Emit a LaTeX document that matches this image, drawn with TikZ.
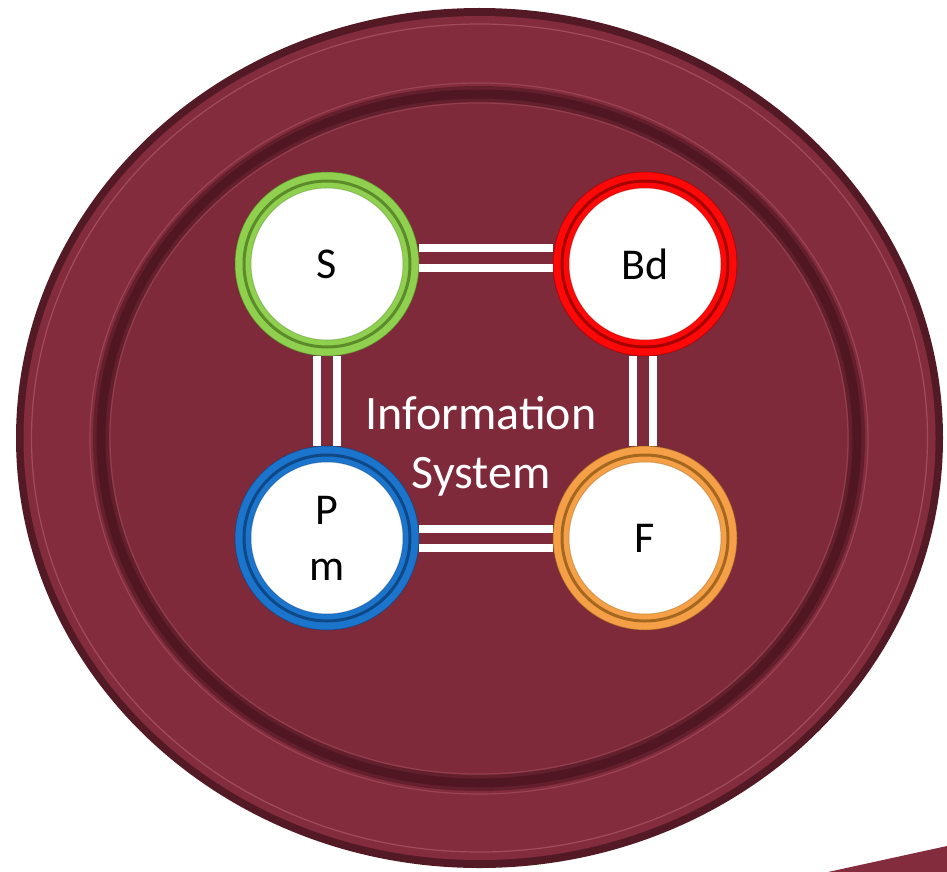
\documentclass[tikz,border=0pt]{standalone}
\usepackage{fontspec}
\setmainfont{Carlito}
\usetikzlibrary{calc}

\definecolor{discfill}{HTML}{7E2A3B}
\definecolor{discrim}{HTML}{822C3E}
\definecolor{discedge}{HTML}{531A25}
\definecolor{groovecol}{HTML}{4C1620}
\definecolor{shine}{HTML}{D07A8A}
\definecolor{sgreen}{HTML}{8FD14F}
\definecolor{sgreendk}{HTML}{4A7420}
\definecolor{bdred}{HTML}{FF0808}
\definecolor{bdreddk}{HTML}{880000}
\definecolor{pmblue}{HTML}{1C75CC}
\definecolor{pmbluedk}{HTML}{0A3A70}
\definecolor{forange}{HTML}{F5A047}
\definecolor{forangedk}{HTML}{8A5414}

\tikzset{
  ringnode/.style={circle, minimum size=168pt, inner sep=0pt, fill=white,
    draw=#1, line width=16pt, text=black, align=center,
    font=\fontsize{44}{56}\selectfont},
  ringshade/.style={draw=#1, line width=3pt, opacity=0.75},
  ringrim/.style={draw=#1, line width=1pt, opacity=0.45},
  bar/.style={draw=white, line width=8.5pt},
  shineline/.style={draw=shine, line width=1.2pt, opacity=0.4},
}

\begin{document}
\begin{tikzpicture}[x=1pt, y=-1pt]
  \useasboundingbox (0,0) rectangle (947,872);

  % plate: dark outer edge, rim surface and highlights
  \fill[discedge] (479.5,438) ellipse[x radius=463.5pt, y radius=430pt];
  \fill[discrim] (479.5,438) ellipse[x radius=456pt, y radius=422pt];
  \draw[shineline] (479.5,438) ellipse[x radius=448pt, y radius=414pt];
  % inner face and its soft groove
  \fill[discfill] (479,438.5) ellipse[x radius=378pt, y radius=344.5pt];
  \draw[shineline, opacity=0.3] (479,438.5) ellipse[x radius=389pt, y radius=355.5pt];
  \draw[groovecol, line width=16pt, opacity=0.55] (479,438.5) ellipse[x radius=378pt, y radius=344.5pt];
  \draw[groovecol, line width=9pt, opacity=0.8] (479,438.5) ellipse[x radius=378pt, y radius=344.5pt];
  \draw[shineline, opacity=0.25] (479,438.5) ellipse[x radius=369pt, y radius=335.5pt];

  % strip in the lower right corner
  \fill[discrim] (828,872) -- (947,846) -- (947,872) -- cycle;

  % the four components
  \node[ringnode=sgreen] (S) at (327,264) {S};
  \node[ringnode=bdred] (Bd) at (645,264) {Bd};
  \node[ringnode=pmblue] (Pm) at (327,538) {P\\m};
  \node[ringnode=forange] (F) at (645,538) {F};

  \foreach \n/\c in {S/sgreendk, Bd/bdreddk, Pm/pmbluedk, F/forangedk} {
    \draw[ringshade=\c] (\n.center) circle[radius=83pt];
    \draw[ringrim=\c] (\n.center) circle[radius=92pt];
    \draw[ringrim=\c, opacity=0.3] (\n.center) circle[radius=76pt];
  }

  % double links between the components
  \draw[bar] ($(S.east)+(0,-16)$) -- ($(Bd.west)+(0,-16)$);
  \draw[bar] ($(S.east)+(0,4)$) -- ($(Bd.west)+(0,4)$);
  \draw[bar] ($(Pm.east)+(0,-9)$) -- ($(F.west)+(0,-9)$);
  \draw[bar] ($(Pm.east)+(0,10)$) -- ($(F.west)+(0,10)$);
  \draw[bar] ($(S.south)+(-10,0)$) -- ($(Pm.north)+(-10,0)$);
  \draw[bar] ($(S.south)+(10,0)$) -- ($(Pm.north)+(10,0)$);
  \draw[bar] ($(Bd.south)+(-12,0)$) -- ($(F.north)+(-12,0)$);
  \draw[bar] ($(Bd.south)+(8,0)$) -- ($(F.north)+(8,0)$);

  % centre caption
  \node[text=white, align=center, font=\fontsize{48}{59}\selectfont]
    (title) at (481,446) {Information\\System};
\end{tikzpicture}
\end{document}
